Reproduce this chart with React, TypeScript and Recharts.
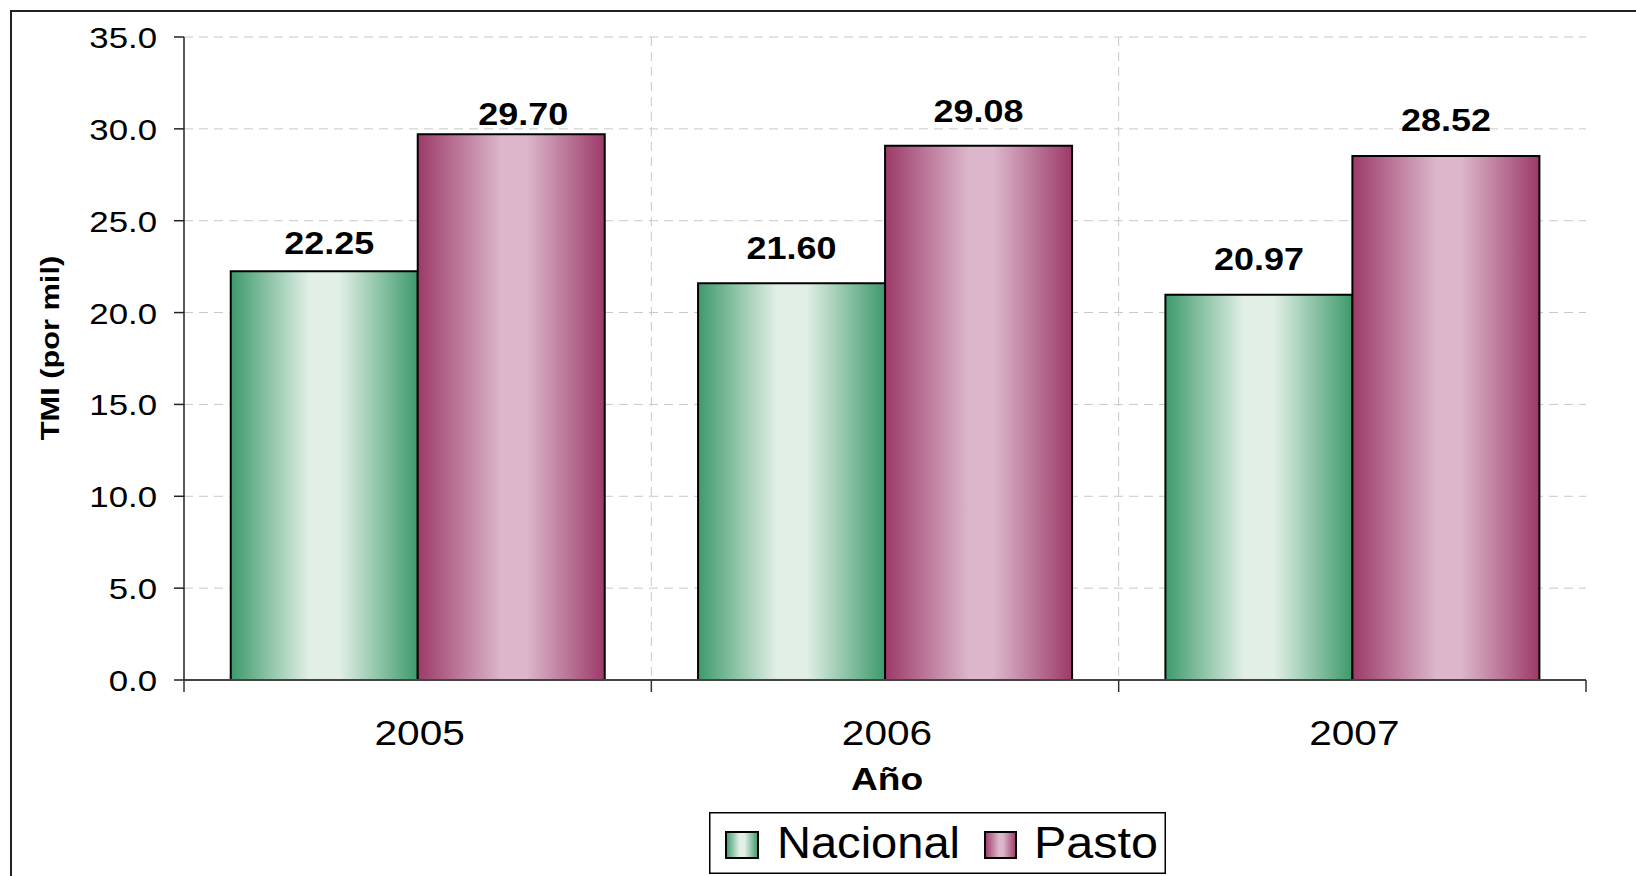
import {
  Bar,
  BarChart,
  CartesianGrid,
  LabelList,
  Legend,
  XAxis,
  YAxis,
} from 'recharts';

const years = ['2005', '2006', '2007'];
const nacional = [22.25, 21.6, 20.97];
const pasto = [29.7, 29.08, 28.52];
const yTicks = [0, 5, 10, 15, 20, 25, 30, 35];
const seriesNames = ['Nacional', 'Pasto'];

// label nudges (the 2005 labels were moved by hand in the original)
const nacLabelLift = [17, 24, 25];
const nacLabelShift = [5, 0, 0];
const pasLabelLift = [9, 24, 25];
const pasLabelShift = [12, 0, 0];

const data = years.map((year, i) => ({
  year,
  nacional: nacional[i],
  pasto: pasto[i],
}));

const FONT = '"Liberation Sans", Arial, sans-serif';
const SX = 1.16; // the source text is drawn a bit wide

function GreenStops() {
  return (
    <>
      <stop offset="0" stopColor="#3d9a6b" />
      <stop offset="0.42" stopColor="#e1efe6" />
      <stop offset="0.58" stopColor="#e1efe6" />
      <stop offset="1" stopColor="#3d9a6b" />
    </>
  );
}

function PinkStops() {
  return (
    <>
      <stop offset="0" stopColor="#9c3a68" />
      <stop offset="0.45" stopColor="#dcb7cb" />
      <stop offset="0.58" stopColor="#dcb7cb" />
      <stop offset="1" stopColor="#9c3a68" />
    </>
  );
}

function WideText({ x, y, anchor = 'middle', size, bold, children, rotate }: any) {
  return (
    <text
      transform={`translate(${x},${y})${rotate ? ` rotate(${rotate})` : ''} scale(${SX},1)`}
      textAnchor={anchor}
      fontSize={size}
      fontWeight={bold ? 'bold' : 'normal'}
      fill="#000"
      fontFamily={FONT}
    >
      {children}
    </text>
  );
}

function YearTick(props: any) {
  const { x, y, payload, index } = props;
  const half = payload.offset || 0;
  return (
    <g>
      <line x1={x - half} y1={y} x2={x - half} y2={y + 12} stroke="#333" strokeWidth={1.5} />
      {index === years.length - 1 && (
        <line x1={x + half} y1={y} x2={x + half} y2={y + 12} stroke="#333" strokeWidth={1.5} />
      )}
      <WideText x={x + 2} y={y + 65} size={35}>
        {payload.value}
      </WideText>
    </g>
  );
}

function ValueTick(props: any) {
  const { x, y, payload } = props;
  return (
    <WideText x={x} y={y + 11} anchor="end" size={30}>
      {Number(payload.value).toFixed(1)}
    </WideText>
  );
}

function makeLabel(lift: number[], shift: number[]) {
  return (p: any) => {
    const { x, y, width, value, index } = p;
    return (
      <WideText x={x + width / 2 + shift[index]} y={y - lift[index]} size={31} bold>
        {Number(value).toFixed(2)}
      </WideText>
    );
  };
}

function LegendBox() {
  return (
    <svg width={457} height={62} style={{ display: 'block' }}>
      <defs>
        <linearGradient id="legNac" x1="0" y1="0" x2="1" y2="0">
          <GreenStops />
        </linearGradient>
        <linearGradient id="legPas" x1="0" y1="0" x2="1" y2="0">
          <PinkStops />
        </linearGradient>
      </defs>
      <rect x={0.75} y={0.75} width={455.5} height={60.5} fill="#fff" stroke="#000" strokeWidth={1.5} />
      <rect x={17} y={20} width={32} height={26} fill="url(#legNac)" stroke="#000" strokeWidth={2} />
      <text
        x={68}
        y={46}
        fontSize={45}
        fill="#000"
        fontFamily={FONT}
        textLength={183}
        lengthAdjust="spacingAndGlyphs"
      >
        {seriesNames[0]}
      </text>
      <rect x={276} y={20} width={31} height={26} fill="url(#legPas)" stroke="#000" strokeWidth={2} />
      <text
        x={325}
        y={46}
        fontSize={45}
        fill="#000"
        fontFamily={FONT}
        textLength={124}
        lengthAdjust="spacingAndGlyphs"
      >
        {seriesNames[1]}
      </text>
    </svg>
  );
}

export default function App() {
  return (
    <div
      style={{
        position: 'absolute',
        left: 0,
        top: 0,
        width: 1636,
        height: 876,
        overflow: 'hidden',
        background: '#fff',
      }}
    >
      <div
        style={{
          position: 'absolute',
          left: 10,
          top: 10,
          width: 1700,
          height: 1000,
          border: '2px solid #222',
          boxSizing: 'border-box',
        }}
      />
      <div style={{ position: 'absolute', left: 0, top: 0 }}>
        <BarChart
          width={1636}
          height={876}
          data={data}
          barCategoryGap="10%"
          barGap={0}
          margin={{ top: 37, right: 50, left: 0, bottom: 96 }}
        >
          <defs>
            <linearGradient id="gNac" x1="0" y1="0" x2="1" y2="0">
              <GreenStops />
            </linearGradient>
            <linearGradient id="gPas" x1="0" y1="0" x2="1" y2="0">
              <PinkStops />
            </linearGradient>
          </defs>
          <CartesianGrid
            stroke="#c8c8c8"
            strokeDasharray="9 6"
            verticalCoordinatesGenerator={({ offset }: any) => [
              offset.left + offset.width / 3,
              offset.left + (offset.width * 2) / 3,
            ]}
          />
          <XAxis
            dataKey="year"
            height={100}
            tickLine={false}
            tickSize={0}
            tickMargin={0}
            axisLine={{ stroke: '#444', strokeWidth: 2 }}
            tick={<YearTick />}
            label={{
              content: (p: any) => {
                const vb = p.viewBox;
                return (
                  <WideText x={vb.x + vb.width / 2 + 2} y={790} size={32} bold>
                    Año
                  </WideText>
                );
              },
            }}
          />
          <XAxis
            xAxisId="t"
            dataKey="year"
            orientation="top"
            height={0}
            tick={false}
            tickLine={false}
            axisLine={{ stroke: '#888', strokeWidth: 2.5 }}
          />
          <YAxis
            domain={[0, 35]}
            ticks={yTicks}
            interval={0}
            width={184}
            axisLine={{ stroke: '#222', strokeWidth: 1.5 }}
            tickLine={{ stroke: '#222', strokeWidth: 1.5 }}
            tickSize={10}
            tickMargin={17}
            tick={<ValueTick />}
            label={{
              content: () => (
                <WideText x={59} y={348} size={26.5} bold rotate={-90}>
                  TMI (por mil)
                </WideText>
              ),
            }}
          />
          <YAxis
            yAxisId="r"
            orientation="right"
            domain={[0, 35]}
            width={0}
            tick={false}
            tickLine={false}
            axisLine={{ stroke: '#888', strokeWidth: 2.5 }}
          />
          <Legend
            layout="horizontal"
            verticalAlign="middle"
            align="center"
            wrapperStyle={{ left: 709, top: 812, width: 457, height: 62 }}
            content={() => <LegendBox />}
          />
          <Bar
            dataKey="nacional"
            name={seriesNames[0]}
            fill="url(#gNac)"
            stroke="#000"
            strokeWidth={2}
            isAnimationActive={false}
          >
            <LabelList dataKey="nacional" content={makeLabel(nacLabelLift, nacLabelShift)} />
          </Bar>
          <Bar
            dataKey="pasto"
            name={seriesNames[1]}
            fill="url(#gPas)"
            stroke="#000"
            strokeWidth={2}
            isAnimationActive={false}
          >
            <LabelList dataKey="pasto" content={makeLabel(pasLabelLift, pasLabelShift)} />
          </Bar>
        </BarChart>
      </div>
    </div>
  );
}
